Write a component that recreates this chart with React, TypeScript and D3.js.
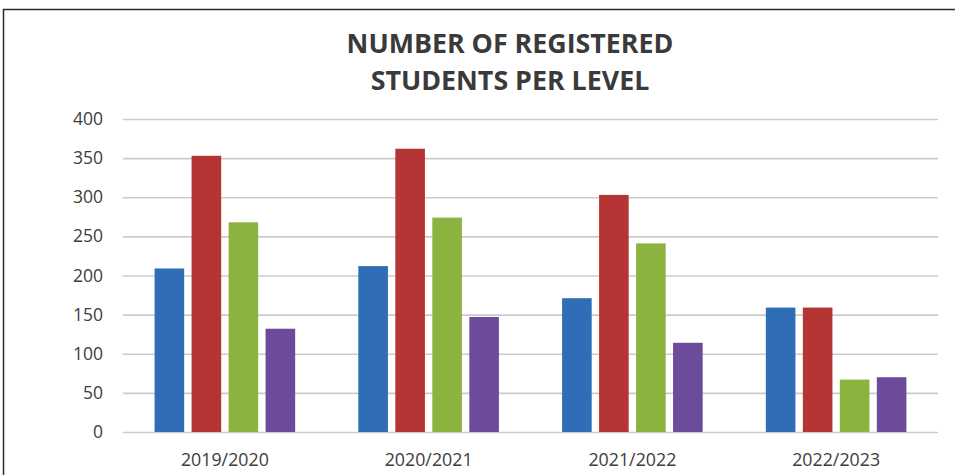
import React, { useRef, useEffect } from 'react';
import * as d3 from 'd3';

const years = ['2019/2020', '2020/2021', '2021/2022', '2022/2023'];
const levels = ['Level 1', 'Level 2', 'Level 3', 'Level 4'];
const level1 = [209, 212, 171, 159];
const level2 = [353, 362, 303, 159];
const level3 = [268, 274, 241, 67];
const level4 = [132, 147, 114, 70];
const yTicks = [0, 50, 100, 150, 200, 250, 300, 350, 400];
const colors = ['#2f6db7', '#b53434', '#8cb33f', '#6c4c9a'];

const App = () => {
    const svgRef = useRef<SVGSVGElement>(null);

    useEffect(() => {
        const width = 955;
        const height = 475;
        const marginLeft = 123;
        const marginRight = 15;
        const plotTop = 119;
        const plotBottom = 432;

        const svg = d3.select(svgRef.current)
            .attr('width', width)
            .attr('height', height)
            .attr('viewBox', `0 0 ${width} ${height}`);

        svg.selectAll('*').remove();

        svg.append('rect')
            .attr('width', width)
            .attr('height', height)
            .attr('fill', '#fff');

        // chart frame (only left and top edges visible)
        svg.append('path')
            .attr('d', `M3.5,${height} V9.5 H${width}`)
            .attr('fill', 'none')
            .attr('stroke', '#2b2b2b')
            .attr('stroke-width', 1.5);

        const series = [level1, level2, level3, level4];
        const data = years.map((year, i) => ({
            year,
            values: levels.map((level, j) => ({ level, value: series[j][i] }))
        }));

        const x0 = d3.scaleBand()
            .domain(years)
            .range([marginLeft, width - marginRight - 2])
            .paddingInner(0.31)
            .paddingOuter(0.155);

        const x1 = d3.scaleBand()
            .domain(levels)
            .range([0, x0.bandwidth()])
            .paddingInner(0.2);

        const y = d3.scaleLinear()
            .domain([0, 400])
            .range([plotBottom, plotTop]);

        const color = d3.scaleOrdinal<string>().domain(levels).range(colors);

        // y axis with grid lines
        svg.append('g')
            .attr('transform', `translate(${marginLeft},0)`)
            .call(d3.axisLeft(y).tickValues(yTicks).tickSize(0).tickPadding(20))
            .call(g => g.select('.domain').remove())
            .call(g => g.selectAll('.tick line').clone()
                .attr('x2', width - marginRight - 2 - marginLeft)
                .attr('stroke', '#cbcbcb')
                .attr('stroke-width', 1.6))
            .call(g => g.selectAll('.tick text')
                .attr('fill', '#3d3d3d')
                .attr('font-size', 17.5)
                .attr('font-family', '"Open Sans", sans-serif'));

        // bars
        svg.append('g')
            .selectAll('g')
            .data(data)
            .join('g')
            .attr('transform', d => `translate(${x0(d.year)},0)`)
            .selectAll('rect')
            .data(d => d.values)
            .join('rect')
            .attr('x', d => x1(d.level)!)
            .attr('y', d => y(d.value))
            .attr('width', x1.bandwidth())
            .attr('height', d => y(0) - y(d.value))
            .attr('fill', d => color(d.level));

        // x axis labels
        svg.append('g')
            .attr('transform', `translate(0,${plotBottom})`)
            .call(d3.axisBottom(x0).tickSize(0).tickPadding(21))
            .call(g => g.select('.domain').remove())
            .call(g => g.selectAll('.tick text')
                .attr('fill', '#3d3d3d')
                .attr('font-size', 17.8)
                .attr('font-family', '"Open Sans", sans-serif'));

        // title
        const title = svg.append('text')
            .attr('x', 510)
            .attr('text-anchor', 'middle')
            .attr('fill', '#3a3a3a')
            .attr('font-size', 26.8)
            .attr('font-weight', 700)
            .attr('font-family', '"Open Sans", sans-serif');
        title.append('tspan').attr('x', 510).attr('y', 53).text('NUMBER OF REGISTERED');
        title.append('tspan').attr('x', 510).attr('y', 90).text('STUDENTS PER LEVEL');
    }, []);

    return (
        <svg ref={svgRef} style={{ position: 'absolute', left: 0, top: 0 }}></svg>
    );
};

export default App;
